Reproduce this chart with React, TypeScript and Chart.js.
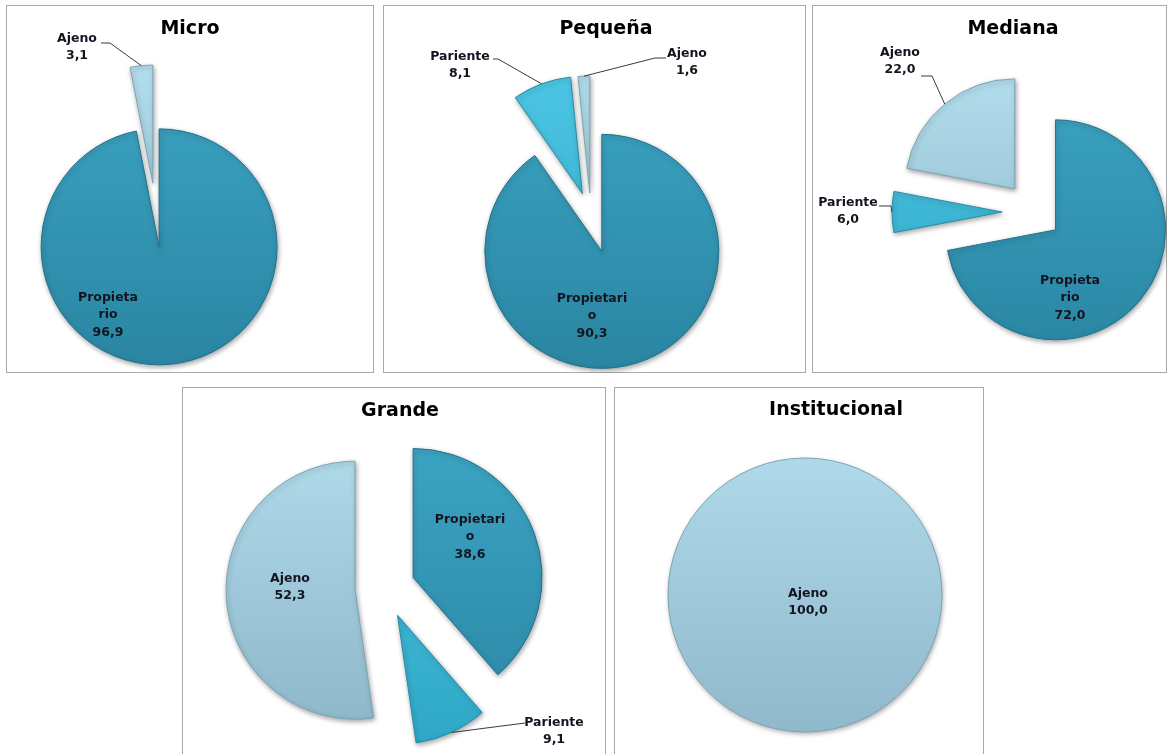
import React, { useEffect, useRef } from "react";
import { Chart, registerables } from "chart.js";

Chart.register(...registerables);

// ---------- DATA ----------
const microCategories = ["Propietario", "Ajeno"];
const microValues = [96.9, 3.1];
const microLabelText = [["Propieta", "rio"], ["Ajeno"]];

const pequenaCategories = ["Propietario", "Pariente", "Ajeno"];
const pequenaValues = [90.3, 8.1, 1.6];
const pequenaLabelText = [["Propietari", "o"], ["Pariente"], ["Ajeno"]];

const medianaCategories = ["Propietario", "Pariente", "Ajeno"];
const medianaValues = [72.0, 6.0, 22.0];
const medianaLabelText = [["Propieta", "rio"], ["Pariente"], ["Ajeno"]];

const grandeCategories = ["Propietario", "Pariente", "Ajeno"];
const grandeValues = [38.6, 9.1, 52.3];
const grandeLabelText = [["Propietari", "o"], ["Pariente"], ["Ajeno"]];

const institucionalCategories = ["Ajeno"];
const institucionalValues = [100.0];
const institucionalLabelText = [["Ajeno"]];

const panelTitles = ["Micro", "Pequeña", "Mediana", "Grande", "Institucional"];

// ---------- STYLE ----------
const sliceColors: Record<string, [string, string, string]> = {
  Propietario: ["#3ca5c4", "#2a86a3", "#23728c"],
  Pariente: ["#4cc6e4", "#2fa7c6", "#268ca8"],
  Ajeno: ["#b2ddec", "#8cb5c8", "#7ea3b4"],
};

const FONT = '"DejaVu Sans", "Open Sans", sans-serif';

type Pt = [number, number];
type Layout = {
  box: [number, number, number, number];
  titlePos: Pt;
  center: Pt;
  radius: number;
  explode: number[];
  labelOffsets: Pt[];
  leaders: (null | [Pt, Pt])[];
};

const layouts: Layout[] = [
  {
    box: [6, 5, 368, 368],
    titlePos: [190, 29],
    center: [156, 215],
    radius: 118,
    explode: [32, 32],
    labelOffsets: [[-48, 100], [-79, -168]],
    leaders: [null, [[-55, -172], [-46, -172]]],
  },
  {
    box: [383, 5, 423, 368],
    titlePos: [606, 29],
    center: [591, 217],
    radius: 117,
    explode: [36, 25, 24],
    labelOffsets: [[1, 99], [-131, -152], [96, -155]],
    leaders: [null, [[-98, -158], [-93, -158]], [[75, -159], [64, -159]]],
  },
  {
    box: [812, 5, 355, 368],
    titlePos: [1013, 29],
    center: [1034, 212],
    radius: 110,
    explode: [28, 32, 30],
    labelOffsets: [[36, 86], [-186, -1], [-134, -151]],
    leaders: [null, [[-155, -6], [-143, -6]], [[-113, -136], [-102, -136]]],
  },
  {
    box: [182, 387, 424, 380],
    titlePos: [400, 411],
    center: [385, 588],
    radius: 129,
    explode: [30, 30, 30],
    labelOffsets: [[85, -51], [169, 143], [-95, -1]],
    leaders: [null, [[140, 135], [140, 135]], null],
  },
  {
    box: [614, 387, 370, 380],
    titlePos: [836, 410],
    center: [805, 595],
    radius: 137,
    explode: [0],
    labelOffsets: [[3, 7]],
    leaders: [null],
  },
];

const fmt = (v: number) => v.toFixed(1).replace(".", ",");

type PanelProps = {
  layout: Layout;
  title: string;
  categories: string[];
  values: number[];
  labelText: string[][];
};

function PiePanel({ layout, title, categories, values, labelText }: PanelProps) {
  const ref = useRef<HTMLCanvasElement>(null);

  useEffect(() => {
    const canvas = ref.current;
    if (!canvas) return;
    const [bx, by, bw, bh] = layout.box;
    const cx = layout.center[0] - bx;
    const cy = layout.center[1] - by;
    const m = Math.min(cx, bw - cx, cy, bh - cy);
    const R = layout.radius;
    const single = values.length === 1;

    const plugin = {
      id: "panelDecor",
      afterDatasetsUpdate(chart: any) {
        const meta = chart.getDatasetMeta(0);
        meta.data.forEach((arc: any, i: number) => {
          const d = layout.explode[i] || 0;
          const mid = (arc.startAngle + arc.endAngle) / 2;
          arc.x += Math.cos(mid) * d;
          arc.y += Math.sin(mid) * d;
        });
      },
      beforeDatasetsDraw(chart: any) {
        const c = chart.ctx;
        c.save();
        c.shadowColor = "rgba(0,0,0,0.35)";
        c.shadowBlur = 5;
        c.shadowOffsetX = 1;
        c.shadowOffsetY = 2;
      },
      afterDatasetsDraw(chart: any) {
        const c = chart.ctx;
        c.restore();
        const meta = chart.getDatasetMeta(0);
        if (single) {
          const arc: any = meta.data[0];
          c.save();
          c.strokeStyle = sliceColors[categories[0]][2];
          c.lineWidth = 1;
          c.beginPath();
          c.arc(arc.x, arc.y, arc.outerRadius, 0, Math.PI * 2);
          c.stroke();
          c.restore();
        }
        // leader lines
        c.save();
        c.strokeStyle = "#3a3a3a";
        c.lineWidth = 1;
        layout.leaders.forEach((ld, i) => {
          if (!ld) return;
          const arc: any = meta.data[i];
          const mid = (arc.startAngle + arc.endAngle) / 2;
          const ex = arc.x + Math.cos(mid) * arc.outerRadius;
          const ey = arc.y + Math.sin(mid) * arc.outerRadius;
          c.beginPath();
          c.moveTo(cx + ld[0][0], cy + ld[0][1]);
          c.lineTo(cx + ld[1][0], cy + ld[1][1]);
          c.lineTo(ex, ey);
          c.stroke();
        });
        c.restore();
        // data labels
        c.save();
        c.fillStyle = "#141420";
        c.font = `bold 12.5px ${FONT}`;
        c.textAlign = "center";
        c.textBaseline = "middle";
        const lh = 17.5;
        values.forEach((v, i) => {
          const lines = [...labelText[i], fmt(v)];
          const [ox, oy] = layout.labelOffsets[i];
          const n = lines.length;
          lines.forEach((t, k) => {
            c.fillText(t, cx + ox, cy + oy + (k - (n - 1) / 2) * lh);
          });
        });
        // title
        c.fillStyle = "#000";
        c.font = `bold 19px ${FONT}`;
        c.fillText(title, layout.titlePos[0] - bx, layout.titlePos[1] - by);
        c.restore();
      },
    };

    const chart = new Chart(canvas, {
      type: "pie",
      data: {
        labels: categories,
        datasets: [
          {
            data: values,
            radius: R,
            clip: false,
            backgroundColor: (ctx: any) => {
              const cat = categories[ctx.dataIndex];
              const col = sliceColors[cat];
              const g = ctx.chart.ctx.createLinearGradient(0, cy - R - 30, 0, cy + R + 30);
              g.addColorStop(0, col[0]);
              g.addColorStop(1, col[1]);
              return g;
            },
            borderColor: categories.map((cat) => sliceColors[cat][2]),
            borderWidth: single ? 0 : 1,
          } as any,
        ],
      },
      options: {
        responsive: false,
        animation: false,
        events: [],
        layout: {
          padding: { left: cx - m, right: bw - cx - m, top: cy - m, bottom: bh - cy - m },
        },
        plugins: {
          legend: { display: false },
          tooltip: { enabled: false },
          title: { display: false },
        },
      },
      plugins: [plugin],
    });
    return () => chart.destroy();
  }, [layout, title, categories, values, labelText]);

  const [bx, by, bw, bh] = layout.box;
  return (
    <>
      <div
        style={{
          position: "absolute",
          left: bx,
          top: by,
          width: bw,
          height: bh,
          boxSizing: "border-box",
          border: "1px solid #a9a9a9",
          background: "#fff",
        }}
      />
      <canvas
        ref={ref}
        width={bw}
        height={bh}
        style={{ position: "absolute", left: bx, top: by, width: bw, height: bh }}
      />
    </>
  );
}

export default function App() {
  return (
    <div
      style={{
        position: "fixed",
        left: 0,
        top: 0,
        width: 1171,
        height: 754,
        background: "#fff",
        overflow: "hidden",
      }}
    >
      <PiePanel layout={layouts[0]} title={panelTitles[0]} categories={microCategories} values={microValues} labelText={microLabelText} />
      <PiePanel layout={layouts[1]} title={panelTitles[1]} categories={pequenaCategories} values={pequenaValues} labelText={pequenaLabelText} />
      <PiePanel layout={layouts[2]} title={panelTitles[2]} categories={medianaCategories} values={medianaValues} labelText={medianaLabelText} />
      <PiePanel layout={layouts[3]} title={panelTitles[3]} categories={grandeCategories} values={grandeValues} labelText={grandeLabelText} />
      <PiePanel layout={layouts[4]} title={panelTitles[4]} categories={institucionalCategories} values={institucionalValues} labelText={institucionalLabelText} />
    </div>
  );
}
